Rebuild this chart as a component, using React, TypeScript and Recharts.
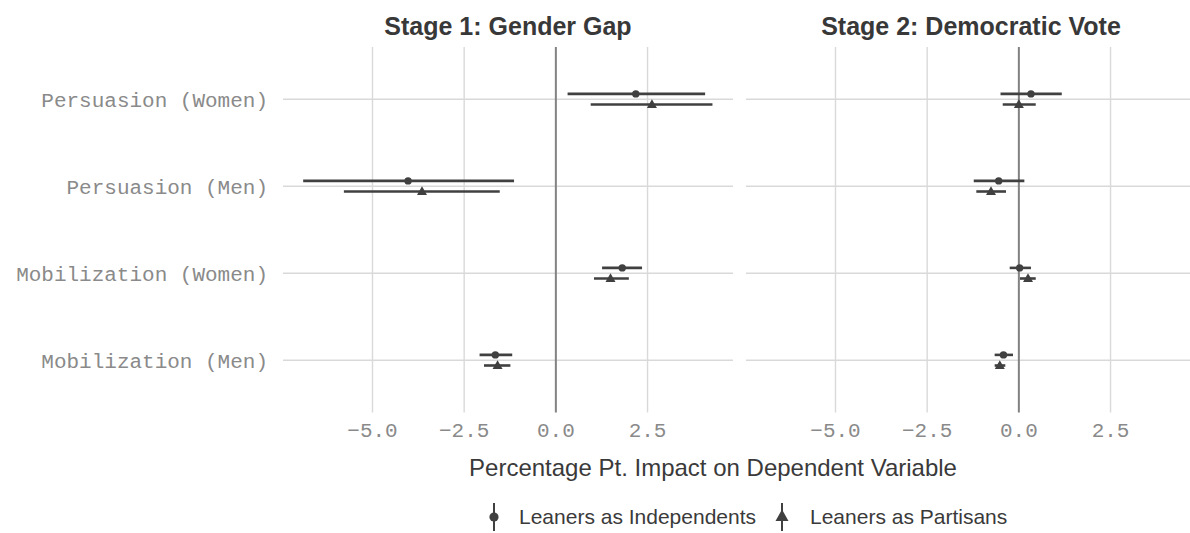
import React from "react";
import {
  ScatterChart,
  Scatter,
  XAxis,
  YAxis,
  ReferenceLine,
  ErrorBar,
} from "recharts";

const categories = [
  "Persuasion (Women)",
  "Persuasion (Men)",
  "Mobilization (Women)",
  "Mobilization (Men)",
];
const xTicks = [-5, -2.5, 0, 2.5];
const yTicks = [1, 2, 3, 4];
const panelTitles = ["Stage 1: Gender Gap", "Stage 2: Democratic Vote"];
const seriesNames = ["Leaners as Independents", "Leaners as Partisans"];

// Stage 1: gender gap
const s1IndEst = [2.18, -4.03, 1.81, -1.65];
const s1IndLo = [0.32, -6.89, 1.26, -2.08];
const s1IndHi = [4.07, -1.14, 2.35, -1.19];
const s1PartEst = [2.62, -3.65, 1.49, -1.59];
const s1PartLo = [0.95, -5.78, 1.04, -1.96];
const s1PartHi = [4.27, -1.53, 1.99, -1.24];

// Stage 2: democratic vote
const s2IndEst = [0.33, -0.55, 0.02, -0.42];
const s2IndLo = [-0.5, -1.23, -0.25, -0.66];
const s2IndHi = [1.17, 0.15, 0.33, -0.16];
const s2PartEst = [0.0, -0.76, 0.25, -0.52];
const s2PartLo = [-0.44, -1.16, 0.03, -0.66];
const s2PartHi = [0.46, -0.35, 0.46, -0.37];

const INK = "#404040";
const GRID = "#d9d9d9";
const X_DOMAIN = [-7.44, 4.83];
const DODGE = 0.061;

function buildRows(est: number[], lo: number[], hi: number[], offset: number) {
  return categories.map((c, i) => ({
    name: c,
    x: est[i],
    y: categories.length - i + offset,
    err: [est[i] - lo[i], hi[i] - est[i]],
  }));
}

const fmtTick = (v: number) => {
  const s = Math.abs(v).toFixed(1);
  return v < 0 ? "\u2212" + s : s;
};

const CircleDot = (props: any) => (
  <circle cx={props.cx} cy={props.cy} r={3.7} fill={INK} />
);

const TriangleDot = (props: any) => {
  const { cx, cy } = props;
  return (
    <polygon
      points={`${cx},${cy - 5.2} ${cx - 5},${cy + 3.4} ${cx + 5},${cy + 3.4}`}
      fill={INK}
    />
  );
};

const tickStyle = {
  fontFamily: "'Liberation Mono', 'DejaVu Sans Mono', monospace",
  fontSize: 21,
  fill: "#8a8a8a",
};

interface PanelProps {
  left: number;
  showY: boolean;
  ind: any[];
  part: any[];
}

const PANEL_W = 450;
const PANEL_H = 365.4;
const Y_AXIS_W = 283;

function Panel({ left, showY, ind, part }: PanelProps) {
  const width = PANEL_W + (showY ? Y_AXIS_W : 0);
  return (
    <div style={{ position: "absolute", left, top: 47.3 }}>
      <ScatterChart
        width={width}
        height={PANEL_H + 40}
        margin={{ top: 0, right: 0, bottom: 0, left: 0 }}
      >
        <XAxis
          type="number"
          dataKey="x"
          domain={X_DOMAIN}
          allowDataOverflow
          ticks={xTicks}
          tickFormatter={fmtTick}
          axisLine={false}
          tickLine={false}
          tickSize={0}
          tickMargin={10}
          height={40}
          tick={tickStyle}
          interval={0}
        />
        <YAxis
          type="number"
          dataKey="y"
          domain={[0.4, 4.6]}
          allowDataOverflow
          ticks={yTicks}
          tickFormatter={(v: number) => categories[categories.length - v]}
          axisLine={false}
          tickLine={false}
          tickSize={0}
          tickMargin={15}
          width={showY ? Y_AXIS_W : 0}
          hide={!showY}
          tick={tickStyle}
          interval={0}
        />
        {yTicks.map((t) => (
          <ReferenceLine key={`h${t}`} y={t} stroke={GRID} strokeWidth={1.4} />
        ))}
        {xTicks
          .filter((t) => t !== 0)
          .map((t) => (
            <ReferenceLine key={`v${t}`} x={t} stroke={GRID} strokeWidth={1.4} />
          ))}
        <ReferenceLine x={0} stroke="#828282" strokeWidth={2} />
        <Scatter
          name={seriesNames[0]}
          data={ind}
          shape={CircleDot}
          isAnimationActive={false}
        >
          <ErrorBar
            dataKey="err"
            direction="x"
            width={0}
            stroke={INK}
            strokeWidth={2.6}
            isAnimationActive={false}
          />
        </Scatter>
        <Scatter
          name={seriesNames[1]}
          data={part}
          shape={TriangleDot}
          isAnimationActive={false}
        >
          <ErrorBar
            dataKey="err"
            direction="x"
            width={0}
            stroke={INK}
            strokeWidth={2.6}
            isAnimationActive={false}
          />
        </Scatter>
      </ScatterChart>
    </div>
  );
}

export default function App() {
  const s1Ind = buildRows(s1IndEst, s1IndLo, s1IndHi, DODGE);
  const s1Part = buildRows(s1PartEst, s1PartLo, s1PartHi, -DODGE);
  const s2Ind = buildRows(s2IndEst, s2IndLo, s2IndHi, DODGE);
  const s2Part = buildRows(s2PartEst, s2PartLo, s2PartHi, -DODGE);

  const sans = "'Liberation Sans', Arial, Helvetica, sans-serif";

  return (
    <div
      style={{
        position: "absolute",
        left: 0,
        top: 0,
        width: 1190,
        height: 533,
        overflow: "hidden",
        background: "#fff",
      }}
    >
      <Panel left={0} showY ind={s1Ind} part={s1Part} />
      <Panel left={746} showY={false} ind={s2Ind} part={s2Part} />
      <svg
        width={1190}
        height={533}
        style={{ position: "absolute", left: 0, top: 0, pointerEvents: "none" }}
      >
        <text
          x={508}
          y={34.5}
          textAnchor="middle"
          fontFamily={sans}
          fontWeight="bold"
          fontSize={25}
          fill="#383838"
        >
          {panelTitles[0]}
        </text>
        <text
          x={971}
          y={34.5}
          textAnchor="middle"
          fontFamily={sans}
          fontWeight="bold"
          fontSize={25}
          fill="#383838"
        >
          {panelTitles[1]}
        </text>
        <text
          x={713}
          y={476}
          textAnchor="middle"
          fontFamily={sans}
          fontSize={24}
          fill="#3a3a3a"
        >
          Percentage Pt. Impact on Dependent Variable
        </text>
        {/* legend */}
        <g>
          <line x1={494} x2={494} y1={503} y2={531} stroke={INK} strokeWidth={2} />
          <circle cx={494} cy={517} r={4.6} fill={INK} />
          <text x={519} y={524} fontFamily={sans} fontSize={21} fill="#3a3a3a">
            {seriesNames[0]}
          </text>
          <line x1={782} x2={782} y1={503} y2={531} stroke={INK} strokeWidth={2} />
          <polygon points="782,509.5 775.5,521 788.5,521" fill={INK} />
          <text x={810} y={524} fontFamily={sans} fontSize={21} fill="#3a3a3a">
            {seriesNames[1]}
          </text>
        </g>
      </svg>
    </div>
  );
}
